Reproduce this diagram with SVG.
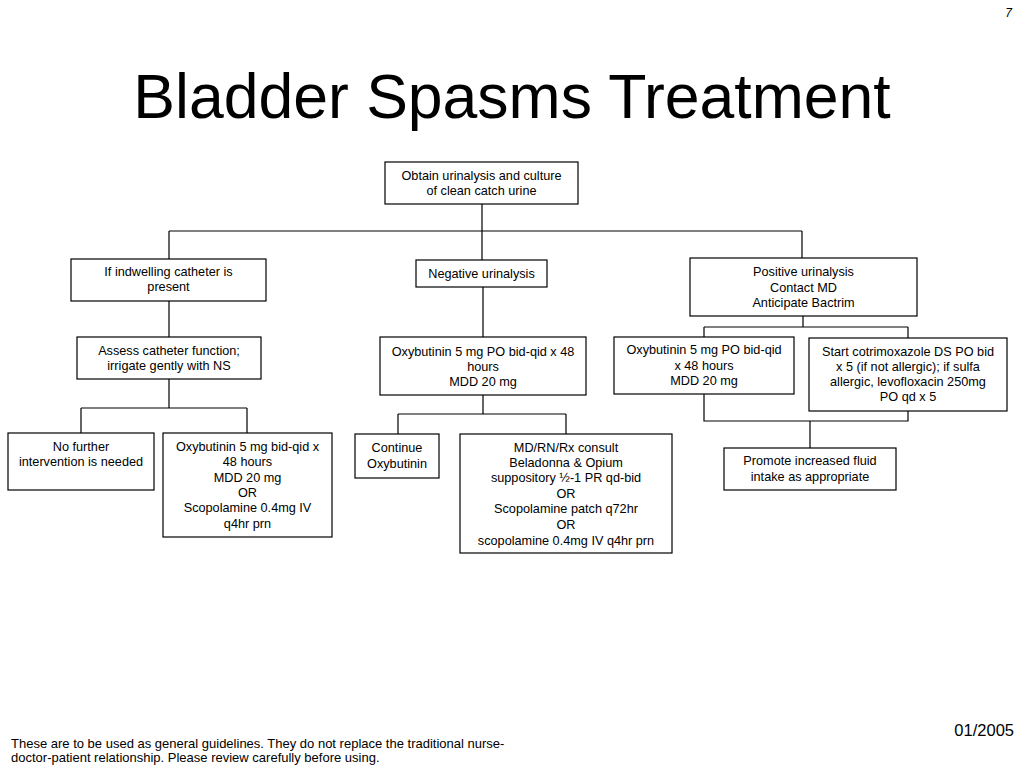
<svg xmlns="http://www.w3.org/2000/svg" width="1024" height="768" viewBox="0 0 1024 768">
<style>
.box{fill:#fff;stroke:#000;stroke-width:1.2}
.t{font-family:"Liberation Sans",Arial,sans-serif;font-size:12.7px;fill:#000;text-anchor:middle}
.c{fill:none;stroke:#000;stroke-width:1.2}
</style>
<rect width="1024" height="768" fill="#fff"/>
<text x="1012" y="17" font-family="Liberation Sans,Arial,sans-serif" font-size="12" font-style="italic" text-anchor="end">7</text>
<text x="512" y="118" font-family="Liberation Sans,Arial,sans-serif" font-size="62.5" text-anchor="middle">Bladder Spasms Treatment</text>
<g id="connectors">
<path class="c" d="M482 204V260M169 231H802M169 231V259M802 231V258"/>
<path class="c" d="M169 301V337M169 379V408M81 408H247M81 408V433M247 408V433"/>
<path class="c" d="M483 287V337M483 395V414M398 414H566M398 414V434M566 414V434"/>
<path class="c" d="M803 316V327M704 327H908M704 327V337M908 327V338"/>
<path class="c" d="M704 394V421H908V411M810 421V448"/>
</g>
<g id="n1"><rect class="box" x="385" y="162" width="193" height="42"/>
<text class="t" x="481.5" y="180">Obtain urinalysis and culture</text><text class="t" x="481.5" y="195">of clean catch urine</text></g>
<g id="n2"><rect class="box" x="71" y="259" width="195" height="42"/>
<text class="t" x="168.5" y="276">If indwelling catheter is</text><text class="t" x="168.5" y="291">present</text></g>
<g id="n3"><rect class="box" x="416" y="260" width="131" height="27"/>
<text class="t" x="481.5" y="278">Negative urinalysis</text></g>
<g id="n4"><rect class="box" x="690" y="258" width="227" height="58"/>
<text class="t" x="803.5" y="276">Positive urinalysis</text><text class="t" x="803.5" y="292">Contact MD</text><text class="t" x="803.5" y="307">Anticipate Bactrim</text></g>
<g id="n5"><rect class="box" x="77" y="337" width="184" height="42"/>
<text class="t" x="169" y="355">Assess catheter function;</text><text class="t" x="169" y="370">irrigate gently with NS</text></g>
<g id="n6"><rect class="box" x="380" y="337" width="206" height="58"/>
<text class="t" x="483" y="356">Oxybutinin 5 mg PO bid-qid x 48</text><text class="t" x="483" y="371">hours</text><text class="t" x="483" y="386">MDD 20 mg</text></g>
<g id="n7"><rect class="box" x="614" y="337" width="180" height="57"/>
<text class="t" x="704" y="354">Oxybutinin 5 mg PO bid-qid</text><text class="t" x="704" y="370">x 48 hours</text><text class="t" x="704" y="385">MDD 20 mg</text></g>
<g id="n8"><rect class="box" x="809" y="338" width="198" height="73"/>
<text class="t" x="908" y="356">Start cotrimoxazole DS PO bid</text><text class="t" x="908" y="371">x 5 (if not allergic); if sulfa</text><text class="t" x="908" y="386">allergic, levofloxacin 250mg</text><text class="t" x="908" y="401">PO qd x 5</text></g>
<g id="n9"><rect class="box" x="8" y="433" width="146" height="57"/>
<text class="t" x="81" y="451">No further</text><text class="t" x="81" y="466">intervention is needed</text></g>
<g id="n10"><rect class="box" x="163" y="433" width="169" height="104"/>
<text class="t" x="247.5" y="451">Oxybutinin 5 mg bid-qid x</text><text class="t" x="247.5" y="466">48 hours</text><text class="t" x="247.5" y="482">MDD 20 mg</text><text class="t" x="247.5" y="497">OR</text><text class="t" x="247.5" y="512">Scopolamine 0.4mg IV</text><text class="t" x="247.5" y="528">q4hr prn</text></g>
<g id="n11"><rect class="box" x="355" y="434" width="84" height="44"/>
<text class="t" x="397" y="452">Continue</text><text class="t" x="397" y="468">Oxybutinin</text></g>
<g id="n12"><rect class="box" x="460" y="434" width="212" height="119"/>
<text class="t" x="566" y="452">MD/RN/Rx consult</text><text class="t" x="566" y="467">Beladonna &amp; Opium</text><text class="t" x="566" y="482">suppository ½-1 PR qd-bid</text><text class="t" x="566" y="498">OR</text><text class="t" x="566" y="513">Scopolamine patch q72hr</text><text class="t" x="566" y="529">OR</text><text class="t" x="566" y="545">scopolamine 0.4mg IV q4hr prn</text></g>
<g id="n13"><rect class="box" x="724" y="448" width="172" height="42"/>
<text class="t" x="810" y="465">Promote increased fluid</text><text class="t" x="810" y="481">intake as appropriate</text></g>
<text x="1014" y="736" font-family="Liberation Sans,Arial,sans-serif" font-size="16.5" text-anchor="end">01/2005</text>
<text x="11" y="748" font-family="Liberation Sans,Arial,sans-serif" font-size="13">These are to be used as general guidelines. They do not replace the traditional nurse-</text>
<text x="11" y="762" font-family="Liberation Sans,Arial,sans-serif" font-size="13">doctor-patient relationship. Please review carefully before using.</text>
</svg>
